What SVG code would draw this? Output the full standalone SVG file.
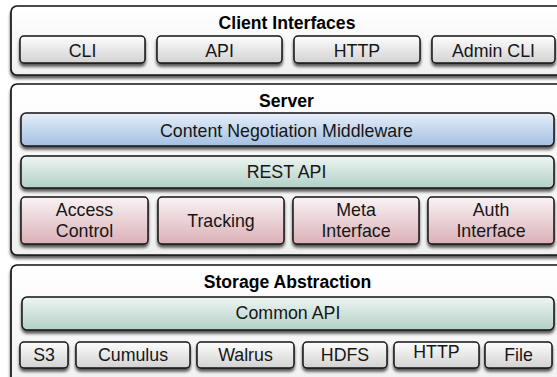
<svg xmlns="http://www.w3.org/2000/svg" width="557" height="377" viewBox="0 0 557 377">
<defs>
<linearGradient id="gOuter" x1="0" y1="0" x2="0" y2="1"><stop offset="0" stop-color="#ffffff"/><stop offset="1" stop-color="#f0f0f0"/></linearGradient>
<linearGradient id="gBtn" x1="0" y1="0" x2="0" y2="1"><stop offset="0" stop-color="#fdfdfd"/><stop offset="1" stop-color="#d2d2d2"/></linearGradient>
<linearGradient id="gBlue" x1="0" y1="0" x2="0" y2="1"><stop offset="0" stop-color="#e8eff9"/><stop offset="1" stop-color="#a2bfe2"/></linearGradient>
<linearGradient id="gGreen" x1="0" y1="0" x2="0" y2="1"><stop offset="0" stop-color="#eef5f2"/><stop offset="1" stop-color="#b2d0c6"/></linearGradient>
<linearGradient id="gPink" x1="0" y1="0" x2="0" y2="1"><stop offset="0" stop-color="#f9f3f4"/><stop offset="1" stop-color="#dab0b7"/></linearGradient>
<filter id="sh" x="-10%" y="-20%" width="120%" height="160%"><feDropShadow dx="0" dy="3" stdDeviation="1.6" flood-color="#000" flood-opacity="0.65"/></filter>
</defs>
<style>
.outer{fill:url(#gOuter);stroke:#151515;stroke-width:1.7;filter:url(#sh)}
.btn{fill:url(#gBtn);stroke:#151515;stroke-width:1.5;filter:url(#sh)}
.blue{fill:url(#gBlue);stroke:#151515;stroke-width:1.5;filter:url(#sh)}
.green{fill:url(#gGreen);stroke:#151515;stroke-width:1.5;filter:url(#sh)}
.pink{fill:url(#gPink);stroke:#151515;stroke-width:1.5;filter:url(#sh)}
text{font-family:"Liberation Sans",Arial,sans-serif;fill:#161616;text-anchor:middle}
.t{font-size:17.8px}
.h{font-size:17.6px;font-weight:bold;fill:#000}
</style>
<g id="client-interfaces">
<rect class="outer" x="11" y="6" width="555" height="69" rx="6"/>
<text class="h" x="287" y="29">Client Interfaces</text>
</g>
<g id="cli"><rect class="btn" x="20" y="36" width="125" height="27" rx="4"/><text class="t" x="82.5" y="56.5">CLI</text></g>
<g id="api"><rect class="btn" x="157" y="36" width="125" height="27" rx="4"/><text class="t" x="219.5" y="56.5">API</text></g>
<g id="http-client"><rect class="btn" x="294" y="36" width="126" height="27" rx="4"/><text class="t" x="357" y="56.5">HTTP</text></g>
<g id="admin-cli"><rect class="btn" x="432" y="36" width="123" height="27" rx="4"/><text class="t" x="493.5" y="56.5">Admin CLI</text></g>

<g id="server">
<rect class="outer" x="11" y="84" width="555" height="171" rx="6"/>
<text class="h" x="286.5" y="107">Server</text>
</g>
<g id="content-negotiation"><rect class="blue" x="21" y="113" width="533" height="33" rx="5"/><text class="t" x="286.5" y="136.5">Content Negotiation Middleware</text></g>
<g id="rest-api"><rect class="green" x="21" y="156" width="533" height="32" rx="5"/><text class="t" x="286.5" y="178">REST API</text></g>
<g id="access-control"><rect class="pink" x="21" y="197" width="127" height="47" rx="4"/><text class="t" x="84.5" y="216">Access</text><text class="t" x="84.5" y="237">Control</text></g>
<g id="tracking"><rect class="pink" x="158" y="197" width="126" height="47" rx="4"/><text class="t" x="221" y="227">Tracking</text></g>
<g id="meta-interface"><rect class="pink" x="293" y="197" width="126" height="47" rx="4"/><text class="t" x="356" y="216">Meta</text><text class="t" x="356" y="237">Interface</text></g>
<g id="auth-interface"><rect class="pink" x="428" y="197" width="126" height="47" rx="4"/><text class="t" x="491" y="216">Auth</text><text class="t" x="491" y="237">Interface</text></g>

<g id="storage-abstraction">
<rect class="outer" x="11" y="265" width="555" height="130" rx="6"/>
<text class="h" x="287.5" y="288">Storage Abstraction</text>
</g>
<g id="common-api"><rect class="green" x="22" y="297" width="532" height="33" rx="5"/><text class="t" x="288" y="318.5">Common API</text></g>
<g id="s3"><rect class="btn" x="20" y="342" width="48" height="26" rx="4"/><text class="t" x="44" y="361">S3</text></g>
<g id="cumulus"><rect class="btn" x="76" y="342" width="114" height="26" rx="4"/><text class="t" x="133" y="361">Cumulus</text></g>
<g id="walrus"><rect class="btn" x="197" y="342" width="97" height="26" rx="4"/><text class="t" x="245.5" y="361">Walrus</text></g>
<g id="hdfs"><rect class="btn" x="303" y="342" width="84" height="26" rx="4"/><text class="t" x="345" y="361">HDFS</text></g>
<g id="http-storage"><rect class="btn" x="394" y="342" width="85" height="26" rx="4"/><text class="t" x="436.5" y="357.5">HTTP</text></g>
<g id="file"><rect class="btn" x="485" y="342" width="67" height="26" rx="4"/><text class="t" x="518.5" y="361">File</text></g>
</svg>
